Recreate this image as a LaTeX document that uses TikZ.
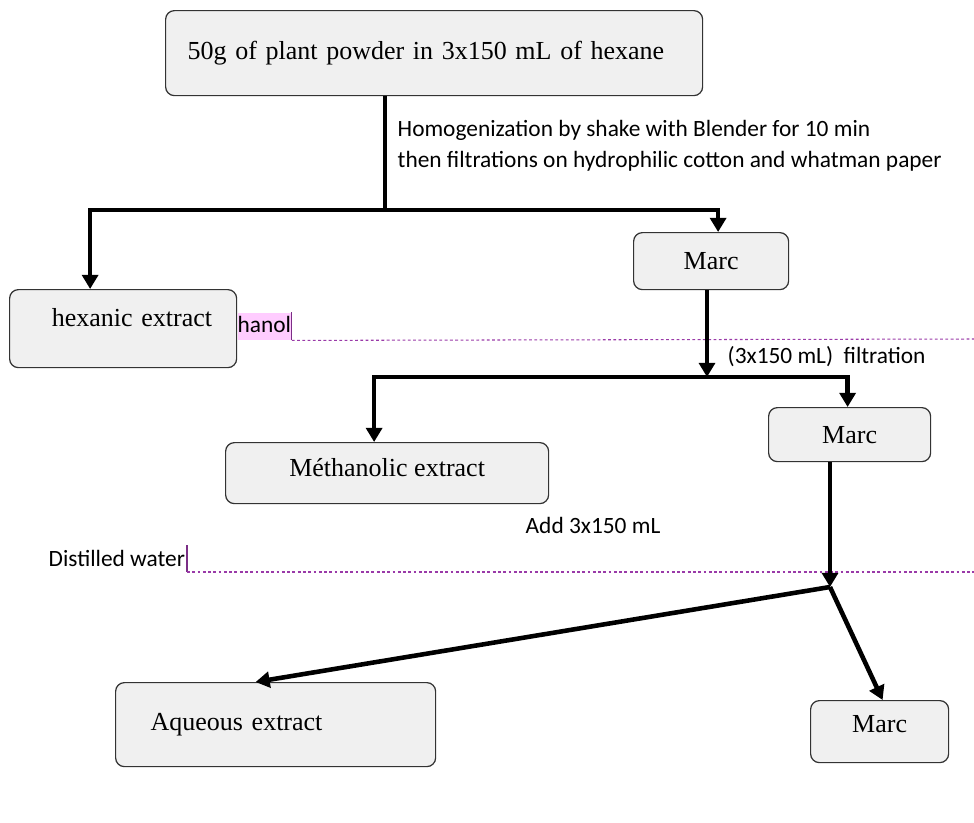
\documentclass[tikz,border=0pt]{standalone}
\usepackage{fontspec}
\setmainfont{Liberation Serif}
\newfontfamily\lblfont{Carlito}
\usetikzlibrary{arrows.meta,calc}
\definecolor{hilite}{HTML}{FFCCFF}
\definecolor{revmark}{HTML}{9A3AA8}

\begin{document}
\begin{tikzpicture}[
    x=0.02cm,y=-0.02cm,
    thick
  ]
\def\px{0.02cm}

\tikzstyle{box}=[draw=black!80,fill=black!6,rounded corners=5pt,line width=0.7pt,
  inner sep=0pt,anchor=north west,font=\fontsize{14.8}{17}\selectfont]
\tikzstyle{flow}=[line width=2.6pt]
\tikzstyle{arr}=[flow,-{Triangle[length=8pt,width=9pt]}]
\tikzstyle{note}=[inner sep=0pt,anchor=west,font=\lblfont\fontsize{13.3}{17.6}\selectfont]
\tikzstyle{trk}=[revmark,line width=0.6pt,dash pattern=on 1.6pt off 1.4pt]
\tikzstyle{caret}=[revmark!80!black,line width=0.6pt]

\useasboundingbox (0,0) rectangle (974,822);

% extraction steps
\node[box,minimum width=537*\px,minimum height=85*\px,text width=493*\px,align=left] (powder) at (165,10) {50g of plant powder in 3x150 mL of hexane};
\node[box,minimum width=155*\px,minimum height=57*\px] (marc1) at (633,232) {Marc};
\node[box,minimum width=227*\px,minimum height=78*\px,text width=178*\px,align=right,text depth=13pt] (hex) at (9,289) {hexanic extract};
\node[box,minimum width=323*\px,minimum height=61*\px,text depth=7pt] (meth) at (225,442) {Méthanolic extract};
\node[box,minimum width=162*\px,minimum height=54*\px] (marc2) at (768,407) {Marc};
\node[box,minimum width=138*\px,minimum height=62*\px,text depth=9pt] (marc3) at (810,700) {Marc};
\node[box,minimum width=320*\px,minimum height=84*\px,text width=250*\px,align=left] (aq) at (115,682) {Aqueous extract};

% side notes
\node[note,align=left] (homog) at (397,146) {Homogenization by shake with Blender for 10 min\\ then filtrations on hydrophilic cotton and whatman paper};
\node[note] (filt) at (727,357) {(3x150 mL)\ \ filtration};
\node[note] (add) at (525,525) {Add 3x150 mL};
\node[note] (water) at (48,558) {Distilled water};
\node[note,anchor=north west,fill=hilite,minimum height=27*\px,text depth=2pt] (hanol) at (237,312) {hanol};

% revision marks
\coordinate (hanolEnd) at (974,339);
\coordinate (wtop) at (187,545);
\coordinate (wbot) at (187,572);
\coordinate (wend) at (974,572);
\draw[caret] (hanol.north east) -- (hanol.south east);
\draw[trk] (hanol.south east) -- (hanolEnd);
\draw[caret] (wtop) -- (wbot);
\draw[trk] (wbot) -- (wend);

% connectors
\coordinate (j1) at (385,210);
\coordinate (j2) at (707,377);
\coordinate (j3) at (830,587);

\draw[flow] (powder.south -| j1) -- (j1);
\draw[arr] (j1) -| ($(hex.north)+(-33,0)$);
\draw[arr] (j1) -| ($(marc1.north)+(7,0)$);

\draw[arr] (marc1.south -| j2) -- (j2);
\draw[arr] (j2) -| ($(meth.north)+(-13,0)$);
\draw[arr] (j2) -| ($(marc2.north)+(-2,0)$);

\draw[arr] (marc2.south -| j3) -- (j3);
\draw[arr] (j3) -- ($(aq.north)+(-20,0)$);
\draw[arr] (j3) -- ($(marc3.north)+(3,0)$);

\end{tikzpicture}
\end{document}
